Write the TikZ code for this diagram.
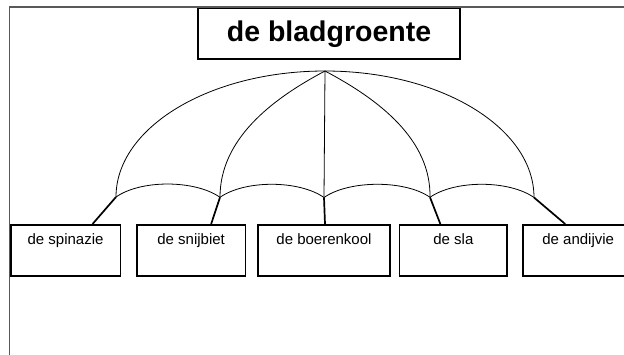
\documentclass[tikz,border=0pt]{standalone}
\usepackage{fontspec}
\setmainfont{Liberation Sans}
\usetikzlibrary{positioning}

\begin{document}
\begin{tikzpicture}[x=1pt, y=-1pt,
    kind/.style={draw, line width=1.6pt, inner sep=0pt, text height=20pt, text depth=31pt, font=\fontsize{15}{18}\selectfont},
    group/.style={draw, line width=1.6pt, minimum width=262pt, minimum height=50.5pt, inner sep=0pt, font=\fontsize{28.5}{32}\selectfont\bfseries},
    rib/.style={line width=0.8pt},
    handle/.style={line width=1.7pt}]
    \useasboundingbox (0,0) rectangle (624,354);
    \draw[black!65, line width=1.2pt] (9.5,7) rectangle (700,420);

    \node[group] (bladgroente) at (329,33.75) {de bladgroente};

    \node[kind, minimum width=109.5pt, anchor=north west] (spinazie) at (10,224) {de spinazie};
    \node[kind, minimum width=108.5pt] (snijbiet) [right=15pt of spinazie] {de snijbiet};
    \node[kind, minimum width=132pt] (boerenkool) [right=11pt of snijbiet] {de boerenkool};
    \node[kind, minimum width=107.5pt] (sla) [right=8pt of boerenkool] {de sla};
    \node[kind, minimum width=110pt] (andijvie) [right=14.5pt of sla] {de andijvie};

    \coordinate (top) at (325,71);
    \coordinate (r1) at (116,197);
    \coordinate (r2) at (220,197.3);
    \coordinate (r3) at (324,197.5);
    \coordinate (r4) at (430,197.3);
    \coordinate (r5) at (534,197.5);

    \draw[rib] (top) .. controls (209.5,71) and (116,127.5) .. (r1);
    \draw[rib] (top) .. controls (270,100) and (220,140) .. (r2);
    \draw[rib] (top) -- (r3);
    \draw[rib] (top) .. controls (380,100) and (431,140) .. (r4);
    \draw[rib] (top) .. controls (440.5,71) and (534,127.5) .. (r5);

    \foreach \a/\b in {r1/r2, r2/r3, r3/r4, r4/r5}
        \draw[rib] (\a) .. controls +(25,-17.5) and +(-25,-17.5) .. (\b);

    \draw[handle] (r1) -- ([xshift=27pt]spinazie.north);
    \draw[handle] (r2) -- ([xshift=20pt]snijbiet.north);
    \draw[handle] (r3) -- ([xshift=1pt]boerenkool.north);
    \draw[handle] (r4) -- ([xshift=-13pt]sla.north);
    \draw[handle] (r5) -- ([xshift=-13pt]andijvie.north);
\end{tikzpicture}
\end{document}
